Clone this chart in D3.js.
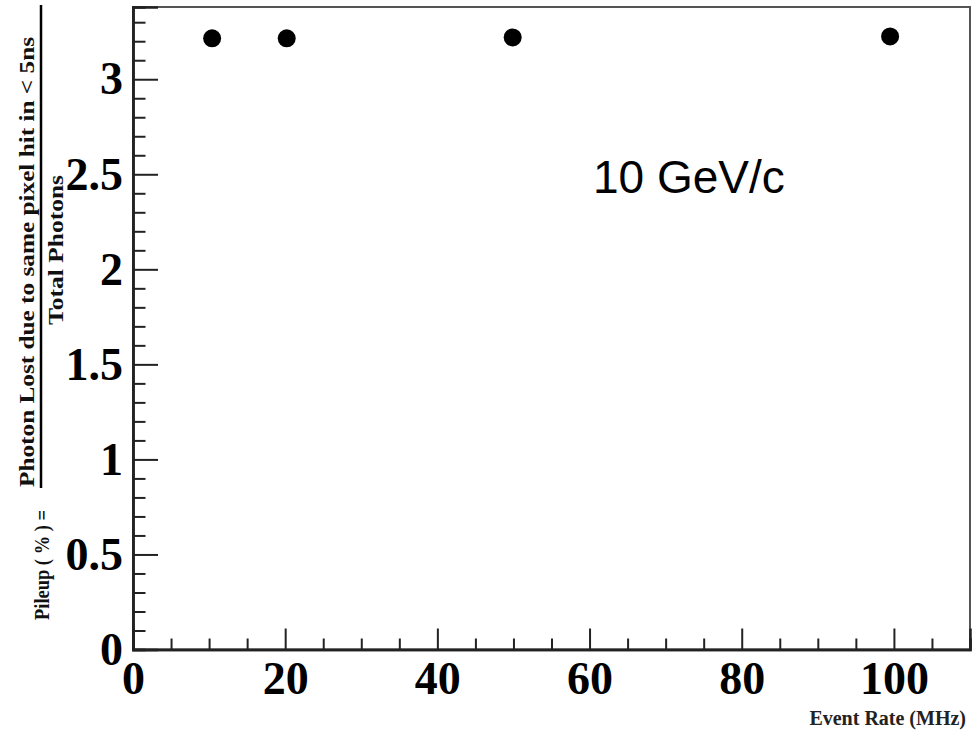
<!DOCTYPE html>
<html><head><meta charset="utf-8">
<script src="https://cdn.jsdelivr.net/npm/d3@7"></script>
<style>body{margin:0;background:#fff} svg{display:block}</style>
</head><body>
<svg id="c" width="972" height="736"></svg>
<script>
const eventRate = [10.4, 20.2, 49.9, 99.5];
const pileup = [3.215, 3.215, 3.22, 3.225];
const xTicks = [0, 20, 40, 60, 80, 100];
const xTickLabels = ["0", "20", "40", "60", "80", "100"];
const yTicks = [0, 0.5, 1, 1.5, 2, 2.5, 3];
const yTickLabels = ["0", "0.5", "1", "1.5", "2", "2.5", "3"];
const xTitle = "Event Rate (MHz)";
const yTitleLeft = "Pileup ( % ) =";
const yTitleNum = "Photon Lost due to same pixel hit in < 5ns";
const yTitleDen = "Total Photons";
const annotation = "10 GeV/c";

const svg = d3.select("#c");
const L = 133, R = 970, T = 7, B = 649.5;
const x = d3.scaleLinear().domain([0, 110]).range([L, R]);
const y = d3.scaleLinear().domain([0, 3.38]).range([B, T]);
const serif = "'Liberation Serif','Times New Roman',serif";

// frame (top/right)
svg.append("rect").attr("x", L).attr("y", T).attr("width", R - L).attr("height", B - T)
  .attr("fill", "none").attr("stroke", "#555").attr("stroke-width", 2);

const xMinor = d3.range(0, 110.001, 5).filter(v => v % 20 !== 0);
const yMinor = d3.range(0, 34).map(i => i / 10).filter(v => Math.abs(v * 2 - Math.round(v * 2)) > 1e-6);

// x axis
const gx = svg.append("g").attr("transform", `translate(0,${B})`);
gx.call(d3.axisBottom(x).tickValues(xMinor).tickSize(-11).tickFormat(""));
gx.append("g").call(d3.axisBottom(x).tickValues(xTicks).tickSize(-21).tickPadding(12)
  .tickFormat((d, i) => xTickLabels[i]));
gx.selectAll("path.domain").attr("stroke", "#222").attr("stroke-width", 2.5);
gx.selectAll("line").attr("stroke", "#222").attr("stroke-width", 2);
gx.selectAll("text").attr("font-family", serif).attr("font-weight", "bold")
  .attr("font-size", 46).attr("fill", "#000");

// y axis
const gy = svg.append("g").attr("transform", `translate(${L},0)`);
gy.call(d3.axisLeft(y).tickValues(yMinor).tickSize(-12.5).tickFormat(""));
gy.append("g").call(d3.axisLeft(y).tickValues(yTicks).tickSize(-25).tickPadding(10)
  .tickFormat((d, i) => yTickLabels[i]));
gy.selectAll("path.domain").attr("stroke", "#222").attr("stroke-width", 2.5);
gy.selectAll("line").attr("stroke", "#222").attr("stroke-width", 2);
gy.selectAll("text").attr("font-family", serif).attr("font-weight", "bold")
  .attr("font-size", 46).attr("fill", "#000");

// points
svg.append("g").selectAll("circle").data(eventRate).join("circle")
  .attr("cx", d => x(d)).attr("cy", (d, i) => y(pileup[i])).attr("r", 9).attr("fill", "#000");

// annotation
svg.append("text").attr("x", 593).attr("y", 193).text(annotation)
  .attr("font-family", "'Liberation Sans',Arial,sans-serif").attr("font-size", 46).attr("fill", "#000");

// x title
svg.append("text").attr("x", 966).attr("y", 725).attr("text-anchor", "end").text(xTitle)
  .attr("font-family", serif).attr("font-weight", "bold").attr("font-size", 20).attr("fill", "#222");

// y title (fraction)
function rot(txt, cx, cy, size, len) {
  const t = svg.append("text").attr("transform", `translate(${cx},${cy}) rotate(-90)`)
    .attr("text-anchor", "middle").attr("dy", "0.35em").text(txt)
    .attr("font-family", serif).attr("font-weight", "bold").attr("font-size", size).attr("fill", "#111");
  if (len) t.attr("textLength", len).attr("lengthAdjust", "spacingAndGlyphs");
  return t;
}
rot(yTitleNum, 27, 262, 21, 450);
rot(yTitleDen, 56, 250, 21, 150);
rot(yTitleLeft, 42, 565, 21, 110);
svg.append("line").attr("x1", 41).attr("x2", 41).attr("y1", 5).attr("y2", 488)
  .attr("stroke", "#000").attr("stroke-width", 2.5);
</script>
</body></html>
